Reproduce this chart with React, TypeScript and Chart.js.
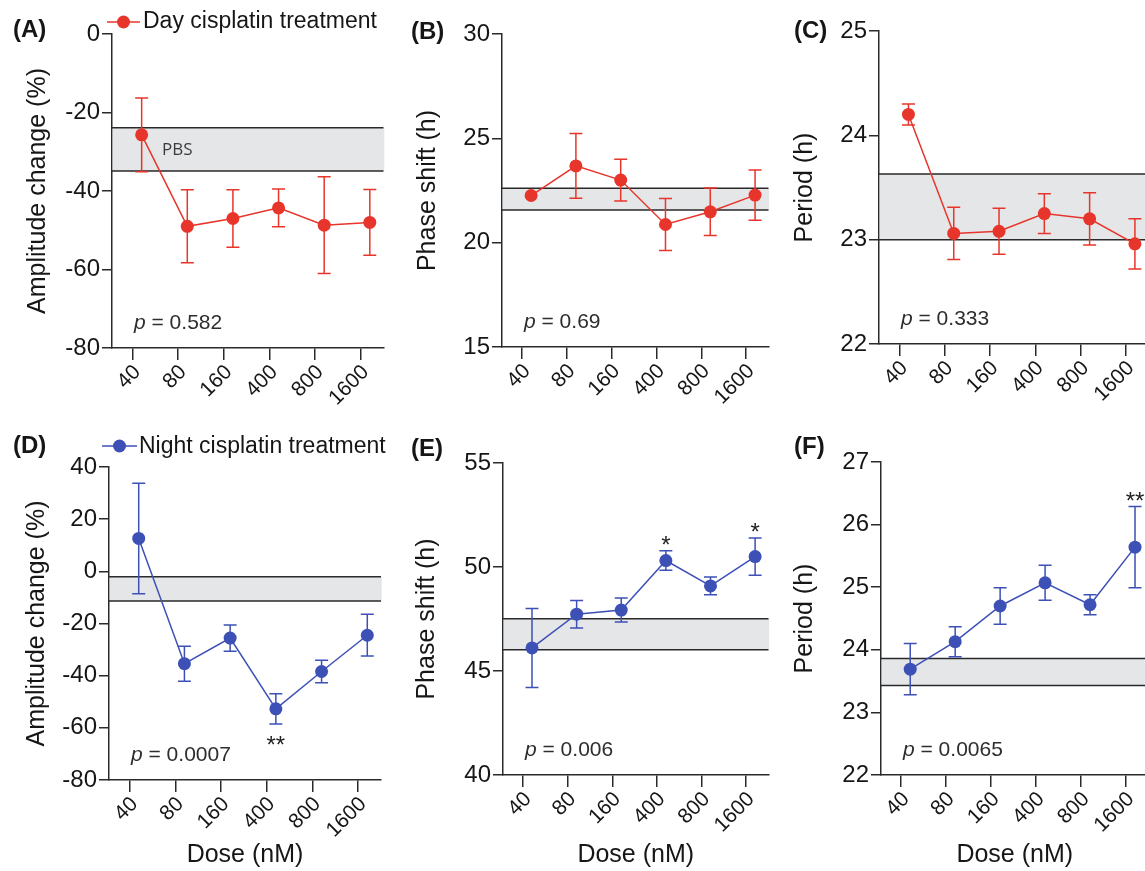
import React, { useEffect, useRef } from 'react';
import { Chart, registerables } from 'chart.js';

Chart.register(...registerables);

const FONT = "'Liberation Sans', Arial, Helvetica, sans-serif";

// ---------- data ----------
const DOSES = ['40', '80', '160', '400', '800', '1600'];

const DAY_AMP = [-25.7, -49.0, -47.0, -44.3, -48.7, -48.0];
const DAY_AMP_ERR = [9.4, 9.3, 7.3, 4.8, 12.3, 8.4];
const DAY_PHASE = [22.26, 23.68, 23.0, 20.87, 21.48, 22.28];
const DAY_PHASE_ERR = [0, 1.55, 1.0, 1.25, 1.14, 1.2];
const DAY_PERIOD = [24.2, 23.06, 23.08, 23.25, 23.2, 22.96];
const DAY_PERIOD_ERR = [0.1, 0.25, 0.22, 0.19, 0.25, 0.24];

const NIGHT_AMP = [12.6, -35.4, -25.6, -52.7, -38.4, -24.5];
const NIGHT_AMP_ERR = [21.2, 6.7, 5.0, 5.8, 4.3, 8.0];
const NIGHT_PHASE = [46.11, 47.73, 47.93, 50.31, 49.09, 50.5];
const NIGHT_PHASE_ERR = [1.9, 0.66, 0.58, 0.47, 0.43, 0.9];
const NIGHT_PERIOD = [23.69, 24.13, 24.7, 25.07, 24.72, 25.64];
const NIGHT_PERIOD_ERR = [0.41, 0.24, 0.29, 0.28, 0.16, 0.65];

// PBS reference bands [low, high]
const PBS_DAY_AMP = [-34.9, -23.9];
const PBS_DAY_PHASE = [21.56, 22.61];
const PBS_DAY_PERIOD = [23.0, 23.63];
const PBS_NIGHT_AMP = [-11.4, -2.1];
const PBS_NIGHT_PHASE = [46.02, 47.51];
const PBS_NIGHT_PERIOD = [23.43, 23.86];

const P_VALUES = ['0.582', '0.69', '0.333', '0.0007', '0.006', '0.0065'];

const NO_STARS = ['', '', '', '', '', ''];
const STARS_NIGHT_AMP = ['', '', '', '**', '', ''];
const STARS_NIGHT_PHASE = ['', '', '', '*', '', '*'];
const STARS_NIGHT_PERIOD = ['', '', '', '', '', '**'];

const Y_TITLES = ['Amplitude change (%)', 'Phase shift (h)', 'Period (h)'];
const LEGEND_DAY = 'Day cisplatin treatment';
const LEGEND_NIGHT = 'Night cisplatin treatment';
const X_TITLE = 'Dose (nM)';

// ---------- styles ----------
const RED = '#e8352b';
const BLUE = '#3d50b6';
const BAND_FILL = '#e5e6e8';
const AXIS_COLOR = '#2a2a2a';
const TEXT_COLOR = '#161616';
const POINT_SHIFT = 0.2;
const POINT_R = 6.5;
const CAP = 6.5;
const X_MIN = -0.45;
const X_MAX = 5.5;

type PanelCfg = {
  key: string;
  letter: string;
  letterPos: number[];
  canvas: number[]; // left, top, w, h
  plot: number[]; // left, top, right, bottom
  yMin: number;
  yMax: number;
  yStep: number;
  yTitle: string;
  titlePad: number;
  mean: number[];
  err: number[];
  pbs: number[];
  color: string;
  p: string;
  stars: string[];
  starsBelow: boolean;
  pbsLabel: boolean;
  legend: string | null;
  legendPos: number[]; // x1, x2, y, textX, textBaseline
  xTitle: boolean;
};

const PANELS: PanelCfg[] = [
  {
    key: 'A', letter: '(A)', letterPos: [13, 37],
    canvas: [0, 0, 390, 420], plot: [112, 34, 385, 348],
    yMin: -80, yMax: 0, yStep: 20, yTitle: Y_TITLES[0], titlePad: 23,
    mean: DAY_AMP, err: DAY_AMP_ERR, pbs: PBS_DAY_AMP, color: RED, p: P_VALUES[0],
    stars: NO_STARS, starsBelow: false, pbsLabel: true,
    legend: LEGEND_DAY, legendPos: [107, 140, 22, 143, 28], xTitle: false,
  },
  {
    key: 'B', letter: '(B)', letterPos: [411, 39],
    canvas: [390, 0, 385, 420], plot: [502, 34, 774, 347],
    yMin: 15, yMax: 30, yStep: 5, yTitle: Y_TITLES[1], titlePad: 23,
    mean: DAY_PHASE, err: DAY_PHASE_ERR, pbs: PBS_DAY_PHASE, color: RED, p: P_VALUES[1],
    stars: NO_STARS, starsBelow: false, pbsLabel: false,
    legend: null, legendPos: [], xTitle: false,
  },
  {
    key: 'C', letter: '(C)', letterPos: [794, 38],
    canvas: [775, 0, 380, 420], plot: [879, 31, 1151, 344],
    yMin: 22, yMax: 25, yStep: 1, yTitle: Y_TITLES[2], titlePad: 15.5,
    mean: DAY_PERIOD, err: DAY_PERIOD_ERR, pbs: PBS_DAY_PERIOD, color: RED, p: P_VALUES[2],
    stars: NO_STARS, starsBelow: false, pbsLabel: false,
    legend: null, legendPos: [], xTitle: false,
  },
  {
    key: 'D', letter: '(D)', letterPos: [13, 453],
    canvas: [0, 420, 390, 451], plot: [109, 467, 381, 780],
    yMin: -80, yMax: 40, yStep: 20, yTitle: Y_TITLES[0], titlePad: 22.5,
    mean: NIGHT_AMP, err: NIGHT_AMP_ERR, pbs: PBS_NIGHT_AMP, color: BLUE, p: P_VALUES[3],
    stars: STARS_NIGHT_AMP, starsBelow: true, pbsLabel: false,
    legend: LEGEND_NIGHT, legendPos: [102, 137, 446, 139, 453], xTitle: true,
  },
  {
    key: 'E', letter: '(E)', letterPos: [411, 456],
    canvas: [390, 420, 385, 451], plot: [503, 463, 775, 775],
    yMin: 40, yMax: 55, yStep: 5, yTitle: Y_TITLES[1], titlePad: 22,
    mean: NIGHT_PHASE, err: NIGHT_PHASE_ERR, pbs: PBS_NIGHT_PHASE, color: BLUE, p: P_VALUES[4],
    stars: STARS_NIGHT_PHASE, starsBelow: false, pbsLabel: false,
    legend: null, legendPos: [], xTitle: true,
  },
  {
    key: 'F', letter: '(F)', letterPos: [794, 454],
    canvas: [775, 420, 380, 451], plot: [881, 462, 1153, 775],
    yMin: 22, yMax: 27, yStep: 1, yTitle: Y_TITLES[2], titlePad: 15.5,
    mean: NIGHT_PERIOD, err: NIGHT_PERIOD_ERR, pbs: PBS_NIGHT_PERIOD, color: BLUE, p: P_VALUES[5],
    stars: STARS_NIGHT_PERIOD, starsBelow: false, pbsLabel: false,
    legend: null, legendPos: [], xTitle: true,
  },
];

function makeDecor(p: PanelCfg) {
  const cl = p.canvas[0];
  const ct = p.canvas[1];
  return {
    id: 'decor' + p.key,
    beforeDatasetsDraw(chart: any) {
      const { ctx, chartArea: a, scales } = chart;
      const x = scales.x;
      const y = scales.y;
      const yHi = y.getPixelForValue(p.pbs[1]);
      const yLo = y.getPixelForValue(p.pbs[0]);
      ctx.save();
      ctx.fillStyle = BAND_FILL;
      ctx.fillRect(a.left + 0.75, yHi, a.right - a.left, yLo - yHi);
      ctx.strokeStyle = AXIS_COLOR;
      ctx.lineWidth = 1.5;
      ctx.beginPath();
      ctx.moveTo(a.left, yHi);
      ctx.lineTo(a.right, yHi);
      ctx.moveTo(a.left, yLo);
      ctx.lineTo(a.right, yLo);
      ctx.stroke();
      ctx.strokeStyle = p.color;
      ctx.lineWidth = 1.5;
      p.mean.forEach((m, i) => {
        if (!p.err[i]) return;
        const px = x.getPixelForValue(i + POINT_SHIFT);
        const t = y.getPixelForValue(m + p.err[i]);
        const b = y.getPixelForValue(m - p.err[i]);
        ctx.beginPath();
        ctx.moveTo(px, t);
        ctx.lineTo(px, b);
        ctx.moveTo(px - CAP, t);
        ctx.lineTo(px + CAP, t);
        ctx.moveTo(px - CAP, b);
        ctx.lineTo(px + CAP, b);
        ctx.stroke();
      });
      ctx.restore();
    },
    afterDatasetsDraw(chart: any) {
      const { ctx, chartArea: a, scales } = chart;
      const x = scales.x;
      const y = scales.y;
      ctx.save();
      // p value
      ctx.fillStyle = '#2e2e2e';
      ctx.textBaseline = 'middle';
      ctx.textAlign = 'left';
      const px0 = a.left + 22;
      const py0 = a.bottom - 25;
      ctx.font = `italic 21px ${FONT}`;
      ctx.fillText('p', px0, py0);
      const w = ctx.measureText('p').width;
      ctx.font = `21px ${FONT}`;
      ctx.fillText(' = ' + p.p, px0 + w, py0);
      // PBS label
      if (p.pbsLabel) {
        ctx.font = `17px 'Open Sans', ${FONT}`;
        ctx.fillStyle = '#3c3c3c';
        const mid = (y.getPixelForValue(p.pbs[0]) + y.getPixelForValue(p.pbs[1])) / 2;
        ctx.fillText('PBS', a.left + 50, mid + 1);
      }
      // significance stars
      ctx.font = `24px ${FONT}`;
      ctx.fillStyle = '#222';
      ctx.textAlign = 'center';
      ctx.textBaseline = 'alphabetic';
      p.stars.forEach((s, i) => {
        if (!s) return;
        const sx = x.getPixelForValue(i + POINT_SHIFT);
        const center = p.starsBelow
          ? y.getPixelForValue(p.mean[i] - p.err[i]) + 16
          : y.getPixelForValue(p.mean[i] + p.err[i]) - 11;
        ctx.fillText(s, sx, center + 13.5);
      });
      ctx.restore();
    },
    afterDraw(chart: any) {
      const { ctx } = chart;
      ctx.save();
      ctx.fillStyle = TEXT_COLOR;
      ctx.textAlign = 'left';
      ctx.textBaseline = 'alphabetic';
      ctx.font = `bold 24px ${FONT}`;
      ctx.fillText(p.letter, p.letterPos[0] - cl, p.letterPos[1] - ct);
      if (p.legend) {
        const [x1, x2, ly, tx, tb] = p.legendPos;
        ctx.strokeStyle = p.color;
        ctx.lineWidth = 1.5;
        ctx.beginPath();
        ctx.moveTo(x1 - cl, ly - ct);
        ctx.lineTo(x2 - cl, ly - ct);
        ctx.stroke();
        ctx.fillStyle = p.color;
        ctx.beginPath();
        ctx.arc((x1 + x2) / 2 - cl, ly - ct, POINT_R, 0, Math.PI * 2);
        ctx.fill();
        ctx.fillStyle = TEXT_COLOR;
        ctx.font = `23px ${FONT}`;
        ctx.fillText(p.legend, tx - cl, tb - ct);
      }
      ctx.restore();
    },
  };
}

function Panel({ cfg }: { cfg: PanelCfg }) {
  const ref = useRef<HTMLCanvasElement>(null);
  useEffect(() => {
    const [cl, ct, cw, ch] = cfg.canvas;
    const [pl, pt, pr, pb] = cfg.plot;
    const yW = pl - cl;
    const xH = ct + ch - pb;
    const chart = new Chart(ref.current as HTMLCanvasElement, {
      type: 'line',
      data: {
        datasets: [
          {
            data: cfg.mean.map((v, i) => ({ x: i + POINT_SHIFT, y: v })),
            borderColor: cfg.color,
            backgroundColor: cfg.color,
            borderWidth: 1.5,
            pointRadius: POINT_R,
            pointBorderWidth: 0,
            pointBackgroundColor: cfg.color,
            tension: 0,
          },
        ],
      },
      options: {
        responsive: false,
        animation: false,
        devicePixelRatio: 1,
        layout: { padding: { left: 0, top: pt - ct, right: cl + cw - pr, bottom: 0 } },
        plugins: { legend: { display: false }, tooltip: { enabled: false } },
        scales: {
          x: {
            type: 'linear',
            min: X_MIN,
            max: X_MAX,
            afterBuildTicks: (s: any) => {
              s.ticks = DOSES.map((_, i) => ({ value: i }));
            },
            afterFit: (s: any) => {
              s.height = xH;
            },
            ticks: {
              autoSkip: false,
              minRotation: 45,
              maxRotation: 45,
              padding: 0,
              labelOffset: 5,
              color: TEXT_COLOR,
              font: { family: FONT, size: 21 },
              callback: (_v: any, i: number) => DOSES[i],
            },
            grid: {
              display: true,
              drawOnChartArea: false,
              drawTicks: true,
              tickLength: 12,
              color: AXIS_COLOR,
              lineWidth: 1.5,
            },
            border: { display: true, color: AXIS_COLOR, width: 1.5 },
            title: {
              display: cfg.xTitle,
              text: X_TITLE,
              color: TEXT_COLOR,
              font: { family: FONT, size: 25 },
              padding: { top: 0, bottom: 1 },
            },
          },
          y: {
            type: 'linear',
            min: cfg.yMin,
            max: cfg.yMax,
            afterFit: (s: any) => {
              s.width = yW;
            },
            ticks: {
              stepSize: cfg.yStep,
              padding: 2,
              color: TEXT_COLOR,
              font: { family: FONT, size: 24 },
            },
            grid: {
              display: true,
              drawOnChartArea: false,
              drawTicks: true,
              tickLength: 10,
              color: AXIS_COLOR,
              lineWidth: 1.5,
            },
            border: { display: true, color: AXIS_COLOR, width: 1.5 },
            title: {
              display: true,
              text: cfg.yTitle,
              color: TEXT_COLOR,
              font: { family: FONT, size: 25 },
              padding: { top: cfg.titlePad, bottom: 0 },
            },
          },
        },
      },
      plugins: [makeDecor(cfg)],
    } as any);
    return () => chart.destroy();
  }, [cfg]);
  const [cl, ct, cw, ch] = cfg.canvas;
  return (
    <canvas
      ref={ref}
      width={cw}
      height={ch}
      style={{ position: 'absolute', left: cl, top: ct, width: cw, height: ch }}
    />
  );
}

export default function App() {
  return (
    <div
      style={{
        position: 'fixed',
        left: 0,
        top: 0,
        width: 1145,
        height: 871,
        overflow: 'hidden',
        background: '#ffffff',
      }}
    >
      {PANELS.map((p) => (
        <Panel key={p.key} cfg={p} />
      ))}
    </div>
  );
}
